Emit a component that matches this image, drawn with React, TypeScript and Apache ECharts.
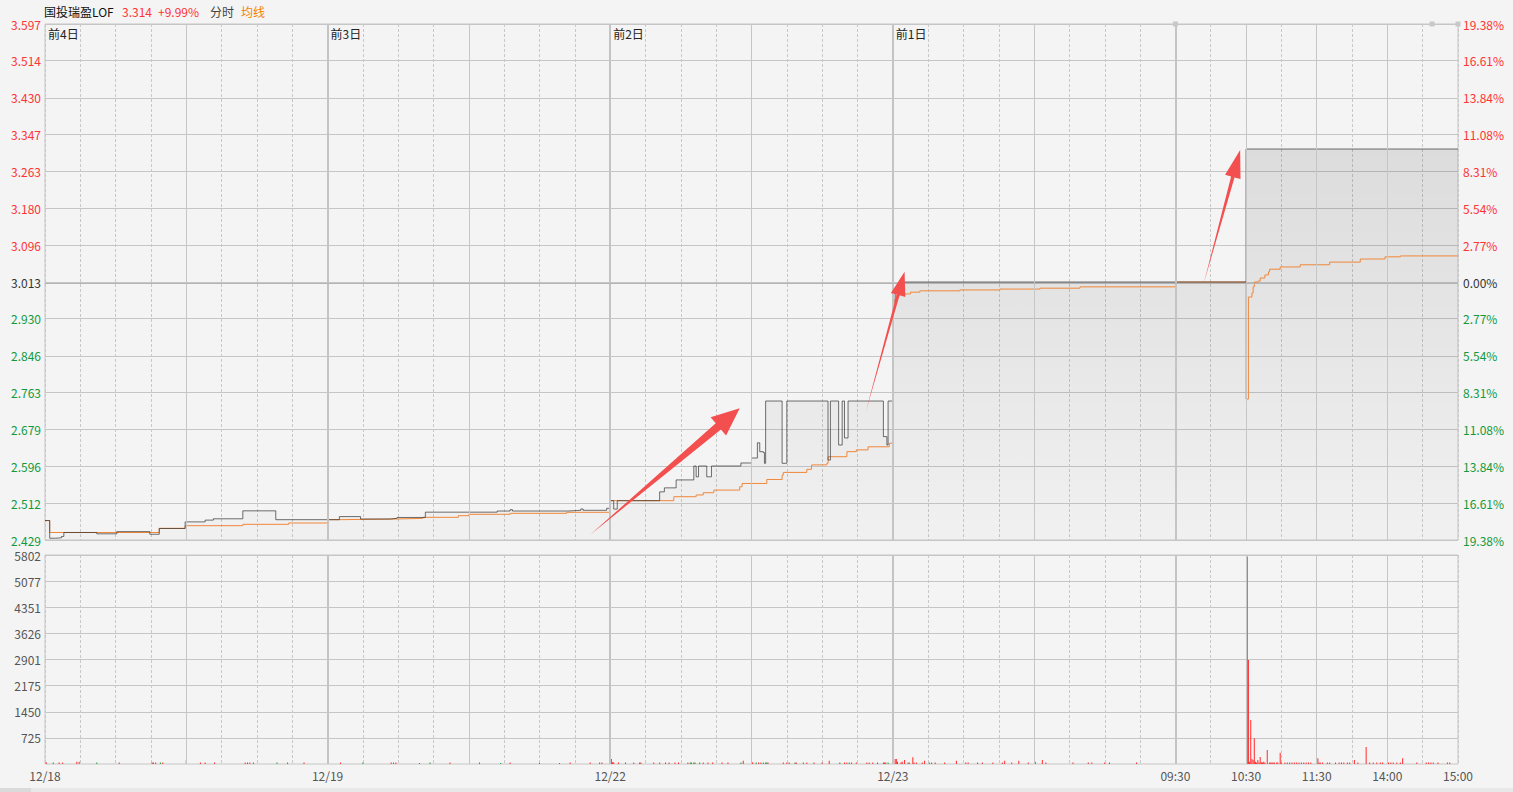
import React, { useEffect, useRef } from 'react';
import * as echarts from 'echarts';

const FONT = '"Noto Sans CJK SC", "Noto Sans", sans-serif';

const stockName = '国投瑞盈LOF';
const lastPrice = '3.314';
const lastChange = '+9.99%';
const prevClose = 3.013;

// price axis ticks (left) and percent labels (right)
const priceTicks = [2.429, 2.512, 2.596, 2.679, 2.763, 2.846, 2.93, 3.013, 3.096, 3.18, 3.263, 3.347, 3.43, 3.514, 3.597];
const pctLabels = ['19.38%', '16.61%', '13.84%', '11.08%', '8.31%', '5.54%', '2.77%', '0.00%', '2.77%', '5.54%', '8.31%', '11.08%', '13.84%', '16.61%', '19.38%'];
const volTicks = [725, 1450, 2175, 2901, 3626, 4351, 5077, 5802];

// time axis in minutes (5 sessions x 240 minutes)
const dayStarts = [0, 240, 480, 720];
const dayLabels = ['前4日', '前3日', '前2日', '前1日'];
const timeTicks = [0, 240, 480, 720, 960, 1020, 1080, 1140, 1200];
const timeLabels = ['12/18', '12/19', '12/22', '12/23', '09:30', '10:30', '11:30', '14:00', '15:00'];
const sessionLines = [120, 360, 600, 840, 1020, 1080, 1140];
const dayBoundaries = [240, 480, 720, 960];

// price changes [minute, price]
const priceSteps: [number, number][] = [
  [0, 2.473], [4, 2.433], [9, 2.434], [14, 2.437], [16, 2.446], [44, 2.443], [61, 2.448], [89, 2.442], [97, 2.455],
  [119, 2.47], [136, 2.474], [143, 2.477], [168, 2.495], [196, 2.475],
  [240, 2.475], [250, 2.482], [268, 2.4765], [293, 2.478], [299, 2.48], [323, 2.492], [384, 2.4946], [395, 2.4976],
  [397, 2.4946], [444, 2.4962], [455, 2.4992], [457, 2.4962], [477, 2.5007],
  [480, 2.518], [483, 2.499], [486, 2.518], [522, 2.538], [526, 2.547], [536, 2.565], [551, 2.5965], [553, 2.572],
  [555, 2.5965], [562, 2.572], [566, 2.5965], [591, 2.6033], [600, 2.6146], [605, 2.649], [607, 2.629], [610, 2.627],
  [611, 2.6026], [612, 2.7436], [626, 2.6026], [630, 2.7436], [665, 2.61], [667, 2.7436], [674, 2.644], [677, 2.7436],
  [679, 2.66], [682, 2.7436], [712, 2.663], [715, 2.644], [716, 2.7436],
  [720, 2.955], [722, 2.99], [725, 3.005], [728, 3.013],
  [960, 3.013], [1020, 3.314], [1200, 3.314],
];

// average price changes [minute, price]
const avgSteps: [number, number][] = [
  [0, 2.473], [4, 2.446], [97, 2.4555], [119, 2.4614], [168, 2.4645], [207, 2.4675],
  [240, 2.475], [250, 2.4765], [299, 2.478], [321, 2.4803], [351, 2.484], [360, 2.4872], [395, 2.4894], [443, 2.4917],
  [480, 2.518], [534, 2.527], [553, 2.531], [559, 2.536], [568, 2.542], [590, 2.5496], [592, 2.557], [613, 2.566],
  [626, 2.576], [627, 2.582], [647, 2.589], [651, 2.599], [664, 2.6026], [665, 2.6175], [681, 2.629], [689, 2.633],
  [699, 2.64], [717, 2.648],
  [720, 2.95], [721, 2.972], [723, 2.983], [726, 2.986], [735, 2.99], [743, 2.993], [777, 2.995], [811, 2.997],
  [845, 2.999], [879, 3.002],
  [960, 3.013], [1020, 2.748], [1022, 2.979], [1025, 2.988], [1026, 3.002], [1027, 3.013], [1030, 3.015], [1032, 3.022],
  [1036, 3.029], [1039, 3.036], [1040, 3.042], [1049, 3.047], [1066, 3.052], [1091, 3.058], [1117, 3.065],
  [1138, 3.07], [1151, 3.072], [1200, 3.072],
];

// volume [minute, lots]
const volUp: [number, number][] = [
  [1, 50], [12, 40], [15, 40], [27, 60], [29, 60], [63, 40], [91, 40], [94, 40], [100, 40], [120, 110], [132, 40],
  [136, 40], [144, 40], [170, 40], [172, 40], [174, 40], [206, 40], [220, 40],
  [251, 40], [294, 40], [298, 40], [318, 30], [344, 40], [369, 40], [395, 40], [420, 30], [446, 40], [463, 40],
  [473, 40], [481, 140], [482, 50], [483, 50], [487, 40], [493, 40], [500, 40], [506, 40], [517, 40], [522, 40],
  [527, 40], [530, 40], [535, 40], [538, 40], [546, 40], [549, 40], [551, 40], [559, 40], [563, 40], [567, 40],
  [575, 40], [580, 40], [593, 90], [601, 50], [606, 40], [608, 40], [612, 40], [614, 40], [627, 40], [630, 40],
  [632, 40], [638, 40], [647, 40], [653, 40], [660, 40], [666, 90], [679, 40], [681, 40], [685, 40], [689, 40],
  [698, 40], [700, 40], [703, 40], [707, 40],
  [713, 40], [720, 50], [722, 140], [723, 140], [724, 60], [727, 50], [728, 60], [730, 110], [733, 40], [737, 190],
  [738, 40], [740, 40], [745, 40], [747, 90], [756, 40], [764, 40], [774, 90], [782, 40], [784, 40], [792, 40],
  [796, 40], [805, 40], [813, 40], [815, 90], [821, 40], [827, 90], [835, 40], [841, 60], [847, 110], [850, 40],
  [873, 40], [886, 40], [889, 40], [900, 40], [904, 40], [927, 40],
  [1021, 5760], [1022, 2890], [1023, 60], [1024, 1220], [1025, 140], [1026, 110], [1027, 713], [1028, 60], [1029, 40],
  [1030, 111], [1031, 40], [1032, 195], [1033, 50], [1034, 40], [1035, 60], [1036, 40], [1038, 389], [1040, 40],
  [1041, 40], [1042, 40], [1043, 40], [1044, 40], [1046, 40], [1047, 40], [1049, 310], [1050, 40], [1053, 40],
  [1055, 40], [1057, 40], [1059, 40], [1061, 40], [1063, 40], [1065, 40], [1067, 40], [1069, 40], [1071, 40],
  [1073, 40], [1075, 40], [1081, 157], [1082, 40], [1083, 40], [1085, 40], [1089, 40], [1091, 40], [1096, 40],
  [1099, 40], [1101, 40], [1103, 40], [1106, 40], [1108, 40], [1112, 111], [1115, 40], [1122, 470], [1125, 40],
  [1128, 40], [1131, 40], [1134, 40], [1136, 40], [1141, 40], [1143, 40], [1145, 40], [1148, 40], [1151, 40],
  [1153, 157], [1165, 40], [1173, 40], [1175, 40], [1177, 40], [1179, 40], [1183, 40], [1191, 40], [1193, 40],
];
const volDown: [number, number][] = [
  [7, 40], [44, 40], [92, 40], [98, 40], [177, 40], [197, 40], [240, 40], [270, 40], [296, 40], [327, 40], [387, 30],
  [437, 30], [471, 40], [480, 40], [505, 40], [548, 40], [552, 40], [556, 40], [591, 40], [604, 40], [610, 40],
  [613, 40], [637, 40], [644, 40], [675, 40], [683, 40], [712, 40], [714, 40], [716, 40], [734, 40], [751, 40], [753, 40],
];

// annotation arrows [minute, price]
const arrowNotes = [
  { from: [463, 2.441], to: [590, 2.727], shaft: 8, headLen: 28, headHalf: 12 },
  { from: [697, 2.719], to: [730, 3.036], shaft: 3, headLen: 24, headHalf: 7.5 },
  { from: [984, 3.009], to: [1015, 3.312], shaft: 3.5, headLen: 28, headHalf: 8 },
];
const topMarkers = [960, 1178, 1200];

const GRID_LINE = '#c6c6c6';

const priceColor = (v: number) =>
  Math.abs(v - prevClose) < 1e-6 ? '#333333' : v > prevClose ? '#ff3333' : '#119a3c';

const nearestTick = (v: number) => {
  let best = 0;
  for (let i = 1; i < priceTicks.length; i++) {
    if (Math.abs(priceTicks[i] - v) < Math.abs(priceTicks[best] - v)) best = i;
  }
  return best;
};

function arrowPoints(t: number[], p: number[], shaft: number, headLen: number, headHalf: number) {
  const dx = p[0] - t[0];
  const dy = p[1] - t[1];
  const len = Math.hypot(dx, dy);
  const ux = dx / len, uy = dy / len;
  const nx = -uy, ny = ux;
  const bx = p[0] - ux * headLen, by = p[1] - uy * headLen;
  return [
    [t[0], t[1]],
    [bx + nx * shaft / 2, by + ny * shaft / 2],
    [bx + nx * headHalf, by + ny * headHalf],
    [p[0], p[1]],
    [bx - nx * headHalf, by - ny * headHalf],
    [bx - nx * shaft / 2, by - ny * shaft / 2],
  ];
}

export default function App() {
  const ref = useRef<HTMLDivElement>(null);
  useEffect(() => {
    if (!ref.current) return;
    const chart = echarts.init(ref.current, null, { renderer: 'svg' });
    const vLines = [
      ...sessionLines.map((v) => ({ xAxis: v, lineStyle: { color: GRID_LINE, width: 1, type: 'solid' } })),
      ...dayBoundaries.map((v) => ({ xAxis: v, lineStyle: { color: '#c4c4c4', width: 2, type: 'solid' } })),
    ];
    const dashed = { show: true, lineStyle: { color: '#c8c8c8', type: [3, 2], width: 1 } };
    const option: any = {
      animation: false,
      backgroundColor: '#f4f4f4',
      textStyle: { fontFamily: FONT },
      grid: [
        { left: 45, right: 55, top: 24, height: 516, show: true, borderColor: GRID_LINE, borderWidth: 1 },
        { left: 45, right: 55, top: 555, height: 209, show: true, borderColor: GRID_LINE, borderWidth: 1 },
      ],
      xAxis: [
        {
          type: 'value', gridIndex: 0, min: 0, max: 1200, interval: 30, position: 'top',
          axisLine: { show: false }, axisTick: { show: false }, splitLine: dashed,
          axisLabel: {
            inside: true, customValues: dayStarts, align: 'left', margin: 3, padding: [0, 0, 0, 3],
            color: '#222', fontSize: 12, fontFamily: FONT, showMinLabel: true,
            formatter: (v: number) => dayLabels[dayStarts.indexOf(Math.round(v))] ?? '',
          },
        },
        {
          type: 'value', gridIndex: 1, min: 0, max: 1200, interval: 30,
          axisLine: { show: false }, axisTick: { show: false }, splitLine: dashed,
          axisLabel: {
            customValues: timeTicks, color: '#555', fontSize: 12, margin: 5, fontFamily: FONT,
            showMinLabel: true, showMaxLabel: true,
            formatter: (v: number) => timeLabels[timeTicks.indexOf(Math.round(v))] ?? '',
          },
        },
      ],
      yAxis: [
        {
          type: 'value', gridIndex: 0, min: 2.429, max: 3.597, position: 'left',
          axisLine: { show: false }, axisTick: { show: false, customValues: priceTicks },
          splitLine: { show: true, lineStyle: { color: GRID_LINE, width: 1 } },
          axisLabel: {
            customValues: priceTicks, margin: 4, fontSize: 12, fontFamily: FONT, showMinLabel: true, showMaxLabel: true,
            formatter: (v: number) => priceTicks[nearestTick(v)].toFixed(3),
            color: (v: any) => priceColor(priceTicks[nearestTick(parseFloat(v))]),
          },
        },
        {
          type: 'value', gridIndex: 0, min: 2.429, max: 3.597, position: 'right',
          axisLine: { show: false }, axisTick: { show: false, customValues: priceTicks }, splitLine: { show: false },
          axisLabel: {
            customValues: priceTicks, margin: 5, fontSize: 12, fontFamily: FONT, showMinLabel: true, showMaxLabel: true,
            formatter: (v: number) => pctLabels[nearestTick(v)],
            color: (v: any) => priceColor(priceTicks[nearestTick(parseFloat(v))]),
          },
        },
        {
          type: 'value', gridIndex: 1, min: 0, max: 5802, position: 'left',
          axisLine: { show: false }, axisTick: { show: false, customValues: volTicks },
          splitLine: { show: true, lineStyle: { color: GRID_LINE, width: 1 } },
          axisLabel: {
            customValues: volTicks, margin: 4, fontSize: 12, fontFamily: FONT, color: '#555', showMaxLabel: true,
            formatter: (v: number) => String(Math.round(v)),
          },
        },
      ],
      series: [
        {
          name: 'area', type: 'line', xAxisIndex: 0, yAxisIndex: 0, data: priceSteps, step: 'end',
          showSymbol: false, silent: true, z: 1,
          lineStyle: { width: 0, opacity: 0 },
          areaStyle: {
            origin: 'start',
            color: new echarts.graphic.LinearGradient(0, 0, 0, 1, [
              { offset: 0, color: 'rgba(0,0,0,0.14)' },
              { offset: 1, color: 'rgba(0,0,0,0.02)' },
            ]),
          },
          markLine: {
            silent: true, symbol: ['none', 'none'], label: { show: false }, animation: false,
            data: [...vLines, { yAxis: prevClose, lineStyle: { color: '#b4b4b4', width: 1, type: 'solid' } }],
          },
        },
        {
          name: '均线', type: 'line', xAxisIndex: 0, yAxisIndex: 0, data: avgSteps, step: 'end',
          showSymbol: false, silent: true, z: 3,
          lineStyle: { color: '#f0873a', width: 1 },
        },
        {
          name: '分时', type: 'line', xAxisIndex: 0, yAxisIndex: 0, data: priceSteps, step: 'end',
          showSymbol: false, silent: true, z: 4,
          lineStyle: { color: 'rgba(45,45,45,0.68)', width: 1 },
        },
        {
          name: 'volUp', type: 'bar', xAxisIndex: 1, yAxisIndex: 2, data: volUp, barWidth: 1, barGap: '-100%',
          silent: true, itemStyle: { color: '#ff2b2b' },
          markLine: {
            silent: true, symbol: ['none', 'none'], label: { show: false }, animation: false,
            data: vLines,
          },
        },
        {
          name: 'volDown', type: 'bar', xAxisIndex: 1, yAxisIndex: 2, data: volDown, barWidth: 1, barGap: '-100%',
          silent: true, itemStyle: { color: '#1a9c3a' },
        },
      ],
    };
    chart.setOption(option);

    const toPx = (p: number[]) => chart.convertToPixel({ xAxisIndex: 0, yAxisIndex: 0 }, p) as number[];
    const arrows = arrowNotes.map((a) => ({
      type: 'polygon', silent: true, z: 100,
      shape: { points: arrowPoints(toPx(a.from), toPx(a.to), a.shaft, a.headLen, a.headHalf) },
      style: { fill: '#f44f4f' },
    }));
    const markers = topMarkers.map((m) => {
      const p = toPx([m, 3.597]);
      return { type: 'rect', silent: true, z: 50, shape: { x: p[0] - 2.5, y: p[1] - 2.5, width: 5, height: 5 }, style: { fill: '#c8c8c8' } };
    });
    const txt = (x: number, text: string, fill: string) => ({
      type: 'text', x, y: 11, silent: true, z: 100,
      style: { text, fill, font: `12px ${FONT}`, verticalAlign: 'middle', align: 'left' },
    });
    chart.setOption({
      graphic: [
        txt(44, stockName, '#111'),
        txt(122, lastPrice, '#ff3333'),
        txt(158, lastChange, '#ff3333'),
        txt(210, '分时', '#444'),
        txt(241, '均线', '#f08300'),
        ...arrows,
        ...markers,
        { type: 'rect', silent: true, shape: { x: 0, y: 788, width: 1513, height: 4 }, style: { fill: '#e8e8e8' } },
        { type: 'rect', silent: true, shape: { x: 0, y: 788, width: 31, height: 4 }, style: { fill: '#dadada' } },
      ],
    });
    return () => chart.dispose();
  }, []);
  return (
    <div
      ref={ref}
      style={{ position: 'absolute', left: 0, top: 0, width: 1513, height: 792, background: '#f4f4f4' }}
    />
  );
}
